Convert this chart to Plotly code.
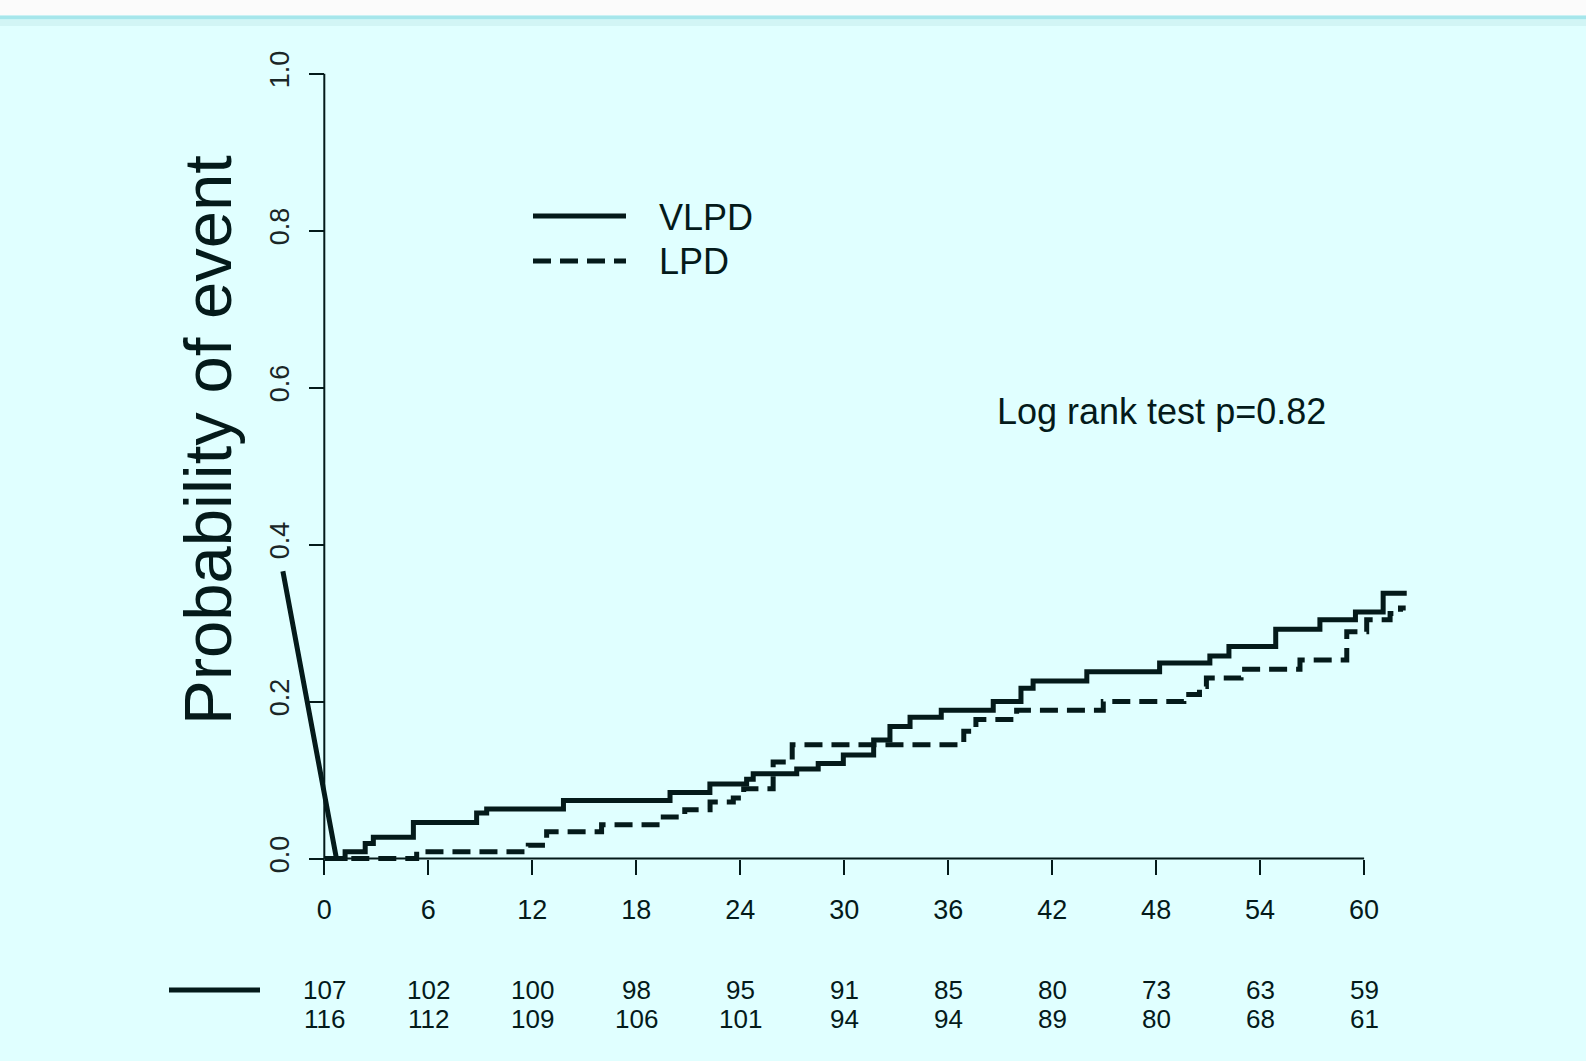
import plotly.graph_objects as go

# ---------------- data ----------------
vlpd_start_t = [-2.39, 0.70]
vlpd_start_p = [0.366, 0.0]
vlpd_t = [0.70, 1.2, 2.36, 2.83, 5.14, 8.79, 9.37, 13.8, 19.95, 22.25, 24.37, 24.75,
          27.26, 28.5, 29.95, 31.7, 32.64, 33.8, 35.6, 38.6, 40.2, 40.9, 44.0, 48.2,
          51.1, 52.2, 54.9, 57.45, 59.5, 61.1]
vlpd_p = [0.0, 0.0087, 0.019, 0.027, 0.046, 0.058, 0.063, 0.074, 0.084, 0.095, 0.101, 0.108,
          0.114, 0.121, 0.132, 0.151, 0.168, 0.180, 0.189, 0.200, 0.217, 0.226, 0.238, 0.249,
          0.258, 0.270, 0.292, 0.304, 0.314, 0.338]
vlpd_end = 62.46

lpd_t = [0.0, 5.33, 11.77, 12.83, 16.0, 19.56, 20.8, 22.26, 23.6, 24.2, 25.9, 27.0, 36.9,
         37.6, 39.95, 44.95, 49.6, 50.5, 50.9, 52.9, 56.3, 59.0, 60.15, 61.5, 62.1]
lpd_p = [0.0, 0.0087, 0.017, 0.034, 0.043, 0.053, 0.062, 0.072, 0.077, 0.089, 0.123, 0.145,
         0.162, 0.177, 0.189, 0.200, 0.209, 0.219, 0.230, 0.241, 0.253, 0.289, 0.304, 0.312,
         0.319]
lpd_end = 62.4

x_ticks = [0, 6, 12, 18, 24, 30, 36, 42, 48, 54, 60]
y_ticks = [0.0, 0.2, 0.4, 0.6, 0.8, 1.0]
risk_vlpd = [107, 102, 100, 98, 95, 91, 85, 80, 73, 63, 59]
risk_lpd = [116, 112, 109, 106, 101, 94, 94, 89, 80, 68, 61]
series_names = ["VLPD", "LPD"]
p_text = "Log rank test p=0.82"
y_title = "Probability of event"

# ---------------- layout helpers ----------------
W, H = 1586, 1061
X0PX, XSCALE = 324.3, 17.33      # pixel of t=0, px per month
Y0PX, YSCALE = 858.5, 785.0      # pixel of p=0, px per unit
XR = [-3.0, 63.5]
YR = [-0.012, 1.0]

def px_x(t):
    return X0PX + XSCALE * t

def px_y(p):
    return Y0PX - YSCALE * p

def fx(px):
    return px / W

def fy(py):
    return 1 - py / H

dom_x = [fx(px_x(XR[0])), fx(px_x(XR[1]))]
dom_y = [fy(px_y(YR[0])), fy(px_y(YR[1]))]

def step_path(ts, ps, t_end, pre_t=None, pre_p=None):
    xs, ys = [], []
    if pre_t:
        xs += list(pre_t[:-1])
        ys += list(pre_p[:-1])
    xs.append(ts[0]); ys.append(ps[0])
    for i in range(1, len(ts)):
        xs += [ts[i], ts[i]]
        ys += [ps[i - 1], ps[i]]
    xs.append(t_end); ys.append(ps[-1])
    return xs, ys

INK = "#041a1a"
BG = "#e0ffff"
SANS = "Liberation Sans, Arial, Helvetica, sans-serif"
LW = 5

fig = go.Figure()

vx, vy = step_path(vlpd_t, vlpd_p, vlpd_end, vlpd_start_t, vlpd_start_p)
lx, ly = step_path(lpd_t, lpd_p, lpd_end)

fig.add_trace(go.Scatter(x=vx, y=vy, mode="lines", name=series_names[0],
                         line=dict(color=INK, width=LW), showlegend=False))
fig.add_trace(go.Scatter(x=lx, y=ly, mode="lines", name=series_names[1],
                         line=dict(color=INK, width=LW, dash="18px,9px"), showlegend=False))

shapes = []
# top banner strip
shapes.append(dict(type="rect", xref="paper", yref="paper", x0=0, x1=1, y0=fy(15.5), y1=1,
                   fillcolor="#fbfbfb", line=dict(width=0), layer="below"))
shapes.append(dict(type="rect", xref="paper", yref="paper", x0=0, x1=1, y0=fy(19.5), y1=fy(15.5),
                   fillcolor="#a6e6eb", line=dict(width=0), layer="below"))
shapes.append(dict(type="rect", xref="paper", yref="paper", x0=0, x1=1, y0=fy(26), y1=fy(19.5),
                   fillcolor="#d2f5f5", line=dict(width=0), layer="below"))
# axis lines (R style, from first to last tick)
shapes.append(dict(type="line", xref="x", yref="y", x0=x_ticks[0], x1=x_ticks[-1], y0=0, y1=0,
                   line=dict(color=INK, width=2)))
shapes.append(dict(type="line", xref="x", yref="y", x0=0, x1=0, y0=y_ticks[0], y1=y_ticks[-1],
                   line=dict(color=INK, width=2)))
# legend samples
shapes.append(dict(type="line", xref="paper", yref="paper", x0=fx(533), x1=fx(626),
                   y0=fy(216), y1=fy(216), line=dict(color=INK, width=LW)))
shapes.append(dict(type="line", xref="paper", yref="paper", x0=fx(533), x1=fx(626),
                   y0=fy(261), y1=fy(261), line=dict(color=INK, width=LW, dash="18px,9px")))
# risk table line sample
shapes.append(dict(type="line", xref="paper", yref="paper", x0=fx(169), x1=fx(260),
                   y0=fy(990), y1=fy(990), line=dict(color=INK, width=LW)))

annotations = []
annotations.append(dict(xref="paper", yref="paper", x=fx(657), y=fy(217), text=series_names[0],
                        showarrow=False, xanchor="left", yanchor="middle",
                        font=dict(family=SANS, size=36, color=INK)))
annotations.append(dict(xref="paper", yref="paper", x=fx(657), y=fy(262), text=series_names[1],
                        showarrow=False, xanchor="left", yanchor="middle",
                        font=dict(family=SANS, size=36, color=INK)))
annotations.append(dict(xref="paper", yref="paper", x=fx(1161), y=fy(411), text=p_text,
                        showarrow=False, xanchor="center", yanchor="middle",
                        font=dict(family=SANS, size=36, color=INK)))
annotations.append(dict(xref="paper", yref="paper", x=fx(207), y=fy(440), text=y_title,
                        textangle=-90, showarrow=False, xanchor="center", yanchor="middle",
                        font=dict(family=SANS, size=67, color=INK)))
for t, a, b in zip(x_ticks, risk_vlpd, risk_lpd):
    annotations.append(dict(xref="x", yref="paper", x=t, y=fy(990), text=str(a),
                            showarrow=False, xanchor="center", yanchor="middle",
                            font=dict(family=SANS, size=26, color=INK)))
    annotations.append(dict(xref="x", yref="paper", x=t, y=fy(1019), text=str(b),
                            showarrow=False, xanchor="center", yanchor="middle",
                            font=dict(family=SANS, size=26, color=INK)))

fig.update_layout(
    width=W, height=H,
    margin=dict(l=0, r=0, t=0, b=0, pad=0, autoexpand=False),
    paper_bgcolor=BG, plot_bgcolor=BG,
    shapes=shapes, annotations=annotations,
    showlegend=False,
    xaxis=dict(domain=dom_x, range=XR, anchor="free", position=fy(Y0PX),
               automargin=False,
               showline=False, showgrid=False, zeroline=False,
               tickmode="array", tickvals=x_ticks, ticktext=[str(v) for v in x_ticks],
               ticks="outside", ticklen=15, tickwidth=2, tickcolor=INK,
               ticklabelstandoff=12,
               tickfont=dict(family=SANS, size=27, color=INK)),
    yaxis=dict(domain=dom_y, range=YR, anchor="free", position=fx(X0PX),
               automargin=False,
               showline=False, showgrid=False, zeroline=False,
               tickmode="array", tickvals=y_ticks, ticktext=[f"{v:.1f}" for v in y_ticks],
               ticks="outside", ticklen=15, tickwidth=2, tickcolor=INK,
               tickangle=-90, ticklabelstandoff=10,
               tickfont=dict(family=SANS, size=27, color="#1a2626")),
)

fig.write_html("out.html")
